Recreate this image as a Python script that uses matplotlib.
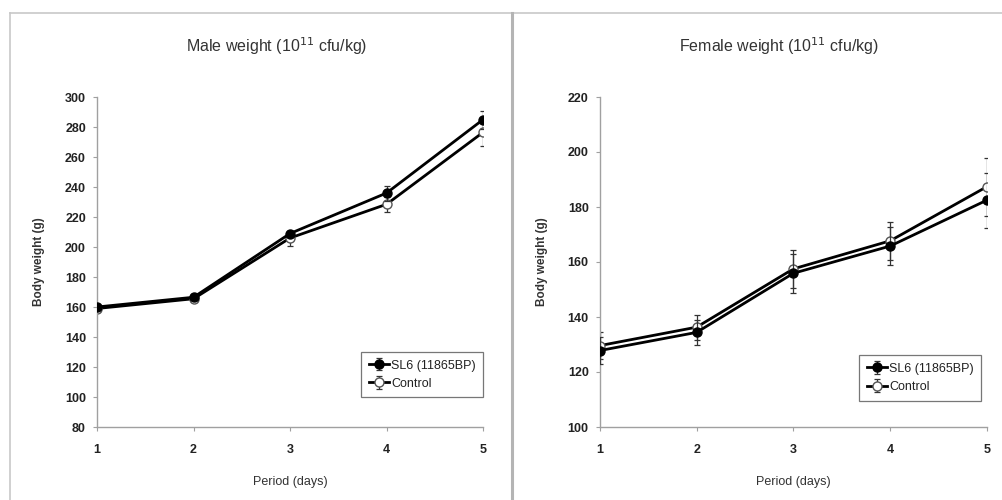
import numpy as np
import matplotlib
matplotlib.use("Agg")
import matplotlib.pyplot as plt
from matplotlib.lines import Line2D

plt.rcParams['font.family'] = ['Liberation Sans', 'DejaVu Sans']

# Data
days = [1, 2, 3, 4, 5]

male_sl6 = [160, 166.5, 209, 236, 285]
male_sl6_err = [2, 2, 2, 5, 6]
male_ctrl = [159, 165.5, 206, 228.5, 276.5]
male_ctrl_err = [2, 2, 5, 5, 9]

female_sl6 = [127.8, 134.4, 155.9, 165.8, 182.5]
female_sl6_err = [5, 4.5, 7, 7, 10]
female_ctrl = [129.6, 136.3, 157.5, 167.7, 187.4]
female_ctrl_err = [5, 4.5, 7, 7, 10.5]

legend_labels = ["SL6 (11865BP)", "Control"]
titles = ["Male weight (10$^{11}$ cfu/kg)", "Female weight (10$^{11}$ cfu/kg)"]
ylims = [(80, 300), (100, 220)]
yticks = [np.arange(80, 301, 20), np.arange(100, 221, 20)]
legend_anchor = [(1.0, 0.09), (0.985, 0.08)]

fig = plt.figure(figsize=(10.03, 5.0), dpi=100)

# thin gray frame round the picture and a divider between the panels
fig.add_artist(Line2D([0.0095, 1], [0.974, 0.974], color="#c8c8c8", lw=1.2))
fig.add_artist(Line2D([0.0095, 0.0095], [0, 0.974], color="#c8c8c8", lw=1.2))
fig.add_artist(Line2D([0.5105, 0.5105], [0, 0.974], color="#b4b4b4", lw=2.2))

ax_left = fig.add_axes([0.0967, 0.146, 0.385, 0.66])
ax_right = fig.add_axes([0.598, 0.146, 0.386, 0.66])

series = [
    (ax_left, male_sl6, male_sl6_err, male_ctrl, male_ctrl_err),
    (ax_right, female_sl6, female_sl6_err, female_ctrl, female_ctrl_err),
]

for i, (ax, sl6, sl6_err, ctrl, ctrl_err) in enumerate(series):
    ax.errorbar(days, sl6, yerr=sl6_err, color="black", lw=2, marker="o",
                ms=6.5, mfc="black", mec="black", ecolor="#333333", elinewidth=0.9,
                capsize=2, capthick=0.9, label=legend_labels[0], zorder=3)
    ax.errorbar(days, ctrl, yerr=ctrl_err, color="black", lw=2, marker="o",
                ms=6.5, mfc="white", mec="#555555", ecolor="#333333", elinewidth=0.9,
                capsize=2, capthick=0.9, label=legend_labels[1], zorder=2)

    ax.set_xlim(1, 5)
    ax.set_ylim(*ylims[i])
    ax.set_xticks(days)
    ax.set_yticks(yticks[i])
    ax.spines['top'].set_visible(False)
    ax.spines['right'].set_visible(False)
    for s in ['left', 'bottom']:
        ax.spines[s].set_color("#a0a0a0")
        ax.spines[s].set_linewidth(1.0)
    ax.tick_params(colors="#a0a0a0", length=3, width=0.8, labelsize=9,
                   labelcolor="#222222", pad=5)
    for lbl in ax.get_xticklabels() + ax.get_yticklabels():
        lbl.set_fontweight("bold")
    ax.tick_params(axis='x', pad=9)

    ax.set_title(titles[i], fontsize=11.5, color="#333333", x=0.464, y=1.11)
    ax.set_xlabel("Period (days)", fontsize=9, color="#333333", labelpad=15)
    ax.set_ylabel("Body weight (g)", fontsize=8.5, fontweight="bold",
                  color="#333333")
    ax.yaxis.set_label_coords(-0.135, 0.5)

    leg = ax.legend(loc="lower right", bbox_to_anchor=legend_anchor[i], fontsize=9,
                    frameon=True, fancybox=False, handlelength=1.6,
                    handletextpad=0.2, borderpad=0.6, labelspacing=0.5,
                    borderaxespad=0.0)
    leg.get_frame().set_edgecolor("#555555")
    leg.get_frame().set_linewidth(0.9)
    for t in leg.get_texts():
        t.set_color("#222222")

fig.savefig("out.png", dpi=100)
